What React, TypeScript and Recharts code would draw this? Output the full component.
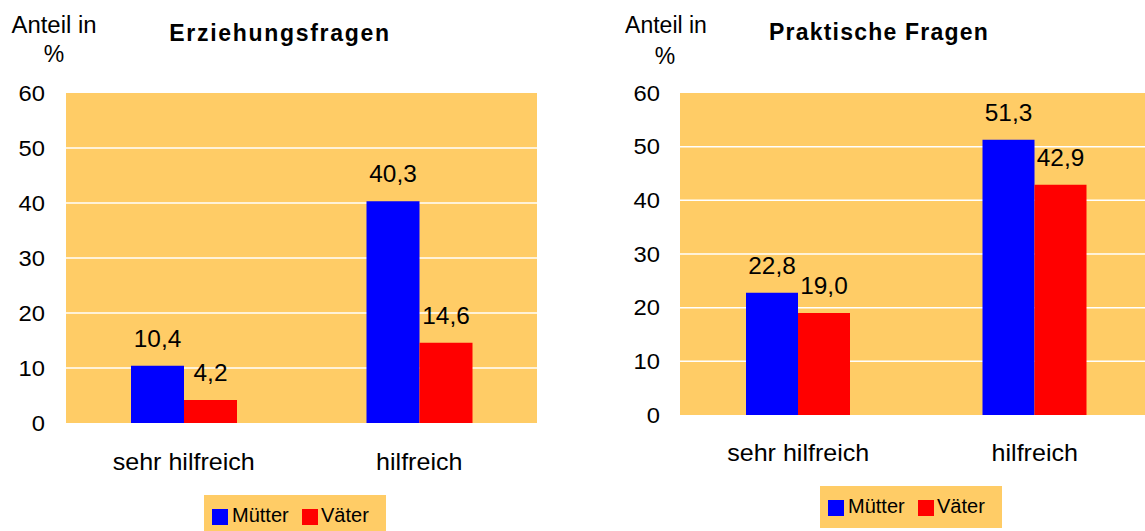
import React from 'react';
import { BarChart, Bar, XAxis, YAxis, CartesianGrid, LabelList, Legend } from 'recharts';

// ---- data ----
const categories = ['sehr hilfreich', 'hilfreich'];
const erzMuetter = [10.4, 40.3];
const erzVaeter = [4.2, 14.6];
const prakMuetter = [22.8, 51.3];
const prakVaeter = [19.0, 42.9];
const yTicks = [0, 10, 20, 30, 40, 50, 60];
const gridValues = [10, 20, 30, 40, 50];
const seriesNames = ['Mütter', 'Väter'];
const seriesColors = ['#0000FF', '#FF0000'];
const chartTitles = ['Erziehungsfragen', 'Praktische Fragen'];
const yAxisTitle = ['Anteil in', '%'];

const erzData = categories.map((c, i) => ({ cat: c, m: erzMuetter[i], v: erzVaeter[i] }));
const prakData = categories.map((c, i) => ({ cat: c, m: prakMuetter[i], v: prakVaeter[i] }));

const FONT = '"Liberation Sans", Arial, Helvetica, sans-serif';
const PLOT_BG = '#FFCC66';

const stretch = (x: number, s: number) => `translate(${x} 0) scale(${s} 1) translate(${-x} 0)`;

const YTick = (props: any) => {
  const { x, y, payload } = props;
  return (
    <text x={x} y={y} dy="0.355em" textAnchor="end" fontSize={22} fontFamily={FONT} fill="#000"
      transform={stretch(x, 1.08)}>
      {payload.value}
    </text>
  );
};

const XTick = (props: any) => {
  const { x, y, payload } = props;
  return (
    <text x={x} y={y} dy="0.71em" textAnchor="middle" fontSize={23} fontFamily={FONT} fill="#000"
      transform={stretch(x, 1.09)}>
      {payload.value}
    </text>
  );
};

const fmt = (v: number) => v.toFixed(1).replace('.', ',');

const DataLabel = (props: any) => {
  const { x, y, width, value } = props;
  const cx = Number(x) + Number(width) / 2;
  return (
    <text x={cx} y={Number(y) - 19} textAnchor="middle" fontSize={23} fontFamily={FONT} fill="#000"
      transform={stretch(cx, 1.06)}>
      {fmt(Number(value))}
    </text>
  );
};

const LegendBox = () => (
  <div style={{ position: 'relative', width: 182, height: 42, background: PLOT_BG, fontFamily: FONT, fontSize: 20, color: '#000' }}>
    {seriesNames.map((n, i) => (
      <React.Fragment key={n}>
        <div style={{ position: 'absolute', left: i === 0 ? 8 : 98, top: 14, width: 16, height: 16, background: seriesColors[i] }} />
        <div style={{ position: 'absolute', left: i === 0 ? 28 : 117, top: 9, lineHeight: '23px', whiteSpace: 'nowrap' }}>{n}</div>
      </React.Fragment>
    ))}
  </div>
);

type PanelProps = {
  data: any[];
  yAxisWidth: number;
  tickMarginY: number;
  tickMarginX: number;
  marginRight: number;
  marginBottom: number;
  barSize: number;
  legendLeft: number;
  legendTop: number;
};

const Panel = ({ data, yAxisWidth, tickMarginY, tickMarginX, marginRight, marginBottom, barSize, legendLeft, legendTop }: PanelProps) => (
  <BarChart width={560} height={531} data={data} barGap={0} barSize={barSize}
    margin={{ top: 93, right: marginRight, left: 0, bottom: marginBottom }}>
    <CartesianGrid vertical={false} fill={PLOT_BG} stroke="#FFFFFF" strokeWidth={1.5} horizontalValues={gridValues} />
    <XAxis dataKey="cat" axisLine={false} tickLine={false} tickSize={0} tickMargin={tickMarginX} height={60} tick={<XTick />} interval={0} />
    <YAxis domain={[0, 60]} ticks={yTicks} axisLine={false} tickLine={false} tickSize={0} tickMargin={tickMarginY}
      width={yAxisWidth} tick={<YTick />} interval={0} />
    <Legend verticalAlign="middle" align="center" layout="horizontal"
      wrapperStyle={{ left: legendLeft, top: legendTop, width: 182, height: 42 }} content={<LegendBox />} />
    <Bar dataKey="m" name={seriesNames[0]} fill={seriesColors[0]} isAnimationActive={false}>
      <LabelList dataKey="m" content={<DataLabel />} />
    </Bar>
    <Bar dataKey="v" name={seriesNames[1]} fill={seriesColors[1]} isAnimationActive={false}>
      <LabelList dataKey="v" content={<DataLabel />} />
    </Bar>
  </BarChart>
);

export default function App() {
  return (
    <div style={{ position: 'absolute', left: 0, top: 0, width: 1145, height: 531, overflow: 'hidden', background: '#fff' }}>
      <div style={{ position: 'absolute', left: 0, top: 0 }}>
        <Panel data={erzData} yAxisWidth={66} tickMarginY={21} tickMarginX={31} marginRight={23} marginBottom={48}
          barSize={53} legendLeft={204} legendTop={495} />
      </div>
      <div style={{ position: 'absolute', left: 600, top: 0 }}>
        <Panel data={prakData} yAxisWidth={80} tickMarginY={20} tickMarginX={30} marginRight={7} marginBottom={56}
          barSize={52} legendLeft={220} legendTop={486} />
      </div>
      <svg width={1145} height={531} style={{ position: 'absolute', left: 0, top: 0, pointerEvents: 'none' }}>
        <text x={280} y={41} textAnchor="middle" fontSize={23} fontWeight="bold" fontFamily={FONT} style={{ letterSpacing: '1.7px' }}>{chartTitles[0]}</text>
        <text x={879} y={40} textAnchor="middle" fontSize={23} fontWeight="bold" fontFamily={FONT} style={{ letterSpacing: '1.2px' }}>{chartTitles[1]}</text>
        <text x={54} y={33} textAnchor="middle" fontSize={23} fontFamily={FONT} transform={stretch(54, 1.04)}>{yAxisTitle[0]}</text>
        <text x={54} y={62} textAnchor="middle" fontSize={23} fontFamily={FONT}>{yAxisTitle[1]}</text>
        <text x={666} y={33} textAnchor="middle" fontSize={23} fontFamily={FONT}>{yAxisTitle[0]}</text>
        <text x={665} y={64} textAnchor="middle" fontSize={23} fontFamily={FONT}>{yAxisTitle[1]}</text>
      </svg>
    </div>
  );
}
